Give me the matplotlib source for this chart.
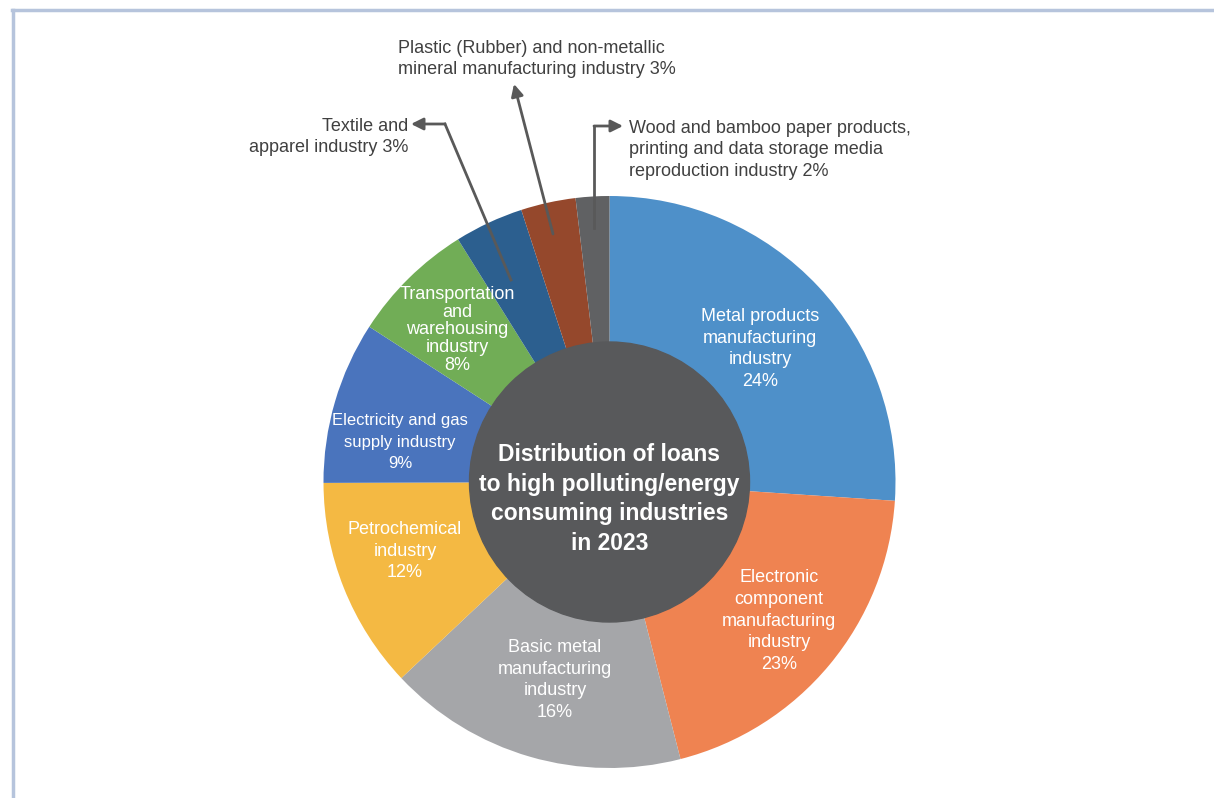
import matplotlib.pyplot as plt
from matplotlib.lines import Line2D

# wedge sizes as drawn, and the percentages printed on the chart
industries = [
    'Metal products\nmanufacturing\nindustry',
    'Electronic\ncomponent\nmanufacturing\nindustry',
    'Basic metal\nmanufacturing\nindustry',
    'Petrochemical\nindustry',
    'Electricity and gas\nsupply industry',
    'Transportation\nand\nwarehousing\nindustry',
    'Textile and\napparel industry',
    'Plastic (Rubber) and non-metallic\nmineral manufacturing industry',
    'Wood and bamboo paper products,\nprinting and data storage media\nreproduction industry',
]
shares = [26.1, 20.0, 17.0, 12.0, 9.2, 7.0, 3.9, 3.1, 1.9]
pct_labels = ['24%', '23%', '16%', '12%', '9%', '8%', '3%', '3%', '2%']

colors = ['#4e90c9', '#ef8351', '#a5a6a9', '#f4b943', '#4a74bd',
          '#71ad56', '#2c5f8f', '#95482c', '#606163']

W, H = 1214, 798
CX, CY, R = 609.5, 482, 286


def px(x, y):
    # pixel position in the picture -> pie data coordinates
    return ((x - CX) / R, (CY - y) / R)


fig = plt.figure(figsize=(W / 100, H / 100), dpi=100)
plt.rcParams['font.family'] = ['Liberation Sans', 'DejaVu Sans']
ax = fig.add_axes([0, 0, 1, 1])

ax.pie(shares, colors=colors, startangle=90, counterclock=False, radius=1,
       wedgeprops=dict(linewidth=0))
ax.add_patch(plt.Circle((0, 0), 140 / R, color='#58595b', zorder=3))

x0, y1 = px(0, 0)
x1, y0 = px(W, H)
ax.set_xlim(x0, x1)
ax.set_ylim(y0, y1)
ax.set_aspect('auto')
ax.axis('off')

# labels inside the wedges
inner_pos = [(760, 349), (779, 621), (555, 680), (405, 551), (400, 442), (457, 330)]
for i, (x, y) in enumerate(inner_pos):
    ls = 1.07 if i == 5 else 1.38
    fs = 12 if i == 4 else 13
    if i == 4:
        ls = 1.5
    ax.text(*px(x, y), industries[i] + '\n' + pct_labels[i], ha='center', va='center',
            color='white', fontsize=fs, linespacing=ls, zorder=4)

# labels outside with arrows
dark = '#404040'
ax.text(*px(408, 137), industries[6] + ' ' + pct_labels[6], ha='right', va='center',
        color=dark, fontsize=13, linespacing=1.35)
ax.text(*px(398, 59), industries[7] + ' ' + pct_labels[7], ha='left', va='center',
        color=dark, fontsize=13, linespacing=1.38)
ax.text(*px(629, 150), industries[8] + ' ' + pct_labels[8], ha='left', va='center',
        color=dark, fontsize=13, linespacing=1.35)

arrow_col = '#595959'
aprops = dict(arrowstyle='-|>,head_length=0.6,head_width=0.3', color=arrow_col,
              lw=2, shrinkA=0, shrinkB=0, mutation_scale=12)

# textile
p = [px(511, 280), px(445, 124)]
ax.plot([p[0][0], p[1][0]], [p[0][1], p[1][1]], color=arrow_col, lw=2, zorder=5)
ax.annotate('', xy=px(411, 124), xytext=px(445, 124), arrowprops=aprops, zorder=5)
# plastic
ax.annotate('', xy=px(514, 84), xytext=px(553, 234), arrowprops=aprops, zorder=5)
# wood
p = [px(594, 228), px(594, 126)]
ax.plot([p[0][0], p[1][0]], [p[0][1], p[1][1]], color=arrow_col, lw=2, zorder=5)
ax.annotate('', xy=px(623, 126), xytext=px(594, 126), arrowprops=aprops, zorder=5)

# centre title
ax.text(0, px(0, 499)[1], 'Distribution of loans\nto high polluting/energy\nconsuming industries\nin 2023',
        ha='center', va='center', color='white', fontsize=16.5, fontweight='bold',
        linespacing=1.37, zorder=4)

# page frame
frame = '#b6c4dc'
fig.add_artist(Line2D([12 / W, 1], [1 - 10 / H, 1 - 10 / H], color=frame, lw=2.5))
fig.add_artist(Line2D([13 / W, 13 / W], [0, 1 - 10 / H], color=frame, lw=2.5))

fig.savefig('out.png', dpi=100)
